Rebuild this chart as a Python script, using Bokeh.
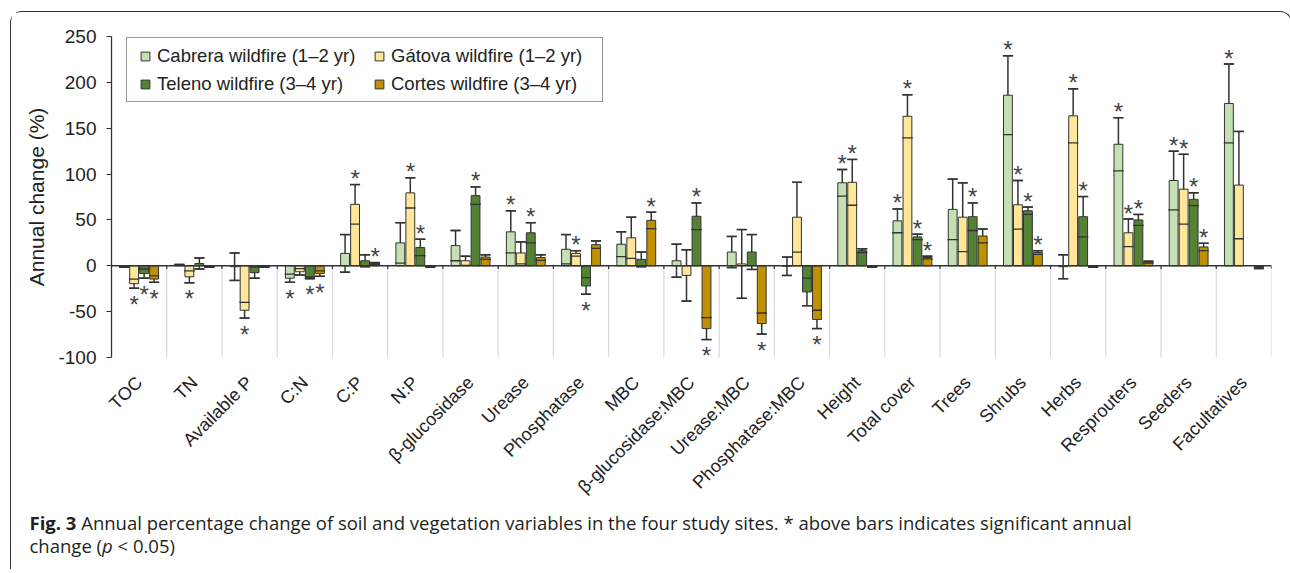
import math
from bokeh.plotting import figure
from bokeh.models import (ColumnDataSource, FactorRange, Range1d, Whisker, TeeHead, Span,
                          Legend, LegendItem, FixedTicker, Div)
from bokeh.transform import dodge
from bokeh.layouts import column
from bokeh.core.properties import value
from bokeh.embed import file_html
from bokeh.resources import INLINE

NAN = float("nan")

categories = ["TOC", "TN", "Available P", "C:N", "C:P", "N:P", "β-glucosidase", "Urease",
              "Phosphatase", "MBC", "β-glucosidase:MBC", "Urease:MBC", "Phosphatase:MBC",
              "Height", "Total cover", "Trees", "Shrubs", "Herbs", "Resprouters", "Seeders",
              "Facultatives"]

series_names = ["Cabrera wildfire (1–2 yr)", "Gátova wildfire (1–2 yr)",
                "Teleno wildfire (3–4 yr)", "Cortes wildfire (3–4 yr)"]
series_colors = ["#c5e0b3", "#ffe699", "#548235", "#bf9000"]

cabrera = [-1, 1, -1, -13.5, 13.5, 25, 22, 37, 18, 23.5, 5.5, 15, -0.5, 90.5, 49, 61.5, 186,
           -1, 132.5, 93, 177]
cabrera_err = [0.5, 0.5, 15, 4.5, 20.5, 22, 16.5, 23, 16, 13.5, 18, 17, 10, 14.5, 13, 33, 43,
               13, 29, 32, 43]
cabrera_sig = [0, 0, 0, 1, 0, 0, 0, 1, 0, 0, 0, 0, 0, 1, 1, 0, 1, 0, 1, 1, 1]

gatova = [-19.5, -12, -48.5, -6.5, 67, 79.5, 5.5, 14, 13.5, 30.5, -10.5, 2, 53, 91, 163, 53,
          66.5, 163.5, 36, 83.5, 88]
gatova_err = [5, 6.5, 8.5, 3.5, 21.5, 16.5, 5, 12, 3, 22.5, 28, 37.5, 38, 25, 23.5, 37.5, 26.5,
              29.5, 15, 38, 58.5]
gatova_sig = [1, 1, 1, 0, 1, 1, 0, 0, 1, 0, 0, 0, 0, 1, 1, 0, 1, 1, 1, 1, 0]

teleno = [-8.5, 2.5, -7.5, -13, 5.5, 20, 76.5, 36, -22, 7, 54, 15, -28.5, 16.5, 31.5, 53.5, 60,
          53.5, 50, 72.5, NAN]
teleno_err = [5, 6, 6, 1, 6.5, 9, 9.5, 11, 9, 8, 14.5, 19, 15, 2, 3, 15, 4, 22, 6, 7, NAN]
teleno_sig = [1, 0, 0, 1, 0, 1, 1, 1, 1, 0, 1, 0, 0, 0, 1, 1, 1, 1, 1, 1, 0]

cortes = [-14.5, -1, -1, -8.5, 2.5, -1, 9.5, 9, 23, 49.5, -68.5, -63, -58.5, -1, 9, 32.5, 14.5,
          -1, 4, 20.5, -2]
cortes_err = [3.5, 0.5, 0.5, 3, 1, 0.5, 2.5, 3, 4, 9, 12, 11.5, 10, 0.5, 1.5, 7.5, 2, 0.5, 1,
              4, 1]
cortes_sig = [1, 0, 0, 1, 1, 0, 0, 0, 0, 1, 1, 1, 1, 0, 1, 0, 1, 0, 0, 1, 0]

y_ticks = [-100, -50, 0, 50, 100, 150, 200, 250]

series_vals = [cabrera, gatova, teleno, cortes]
series_errs = [cabrera_err, gatova_err, teleno_err, cortes_err]
series_sigs = [cabrera_sig, gatova_sig, teleno_sig, cortes_sig]
offsets = [-0.2715, -0.0905, 0.0905, 0.2715]

FONT = "Liberation Sans"
DARK = "#333333"

p = figure(width=1270, height=495, x_range=FactorRange(*categories),
           y_range=Range1d(-100, 250), output_backend="svg", toolbar_location=None,
           min_border_left=100, min_border_right=10, min_border_top=24, min_border_bottom=149)
p.outline_line_color = None
p.xgrid.grid_line_color = None
p.ygrid.grid_line_color = None

# category separators below zero
sep_src = ColumnDataSource(dict(cat=categories))
p.segment(x0=dodge("cat", 0.5, range=p.x_range), y0=0, x1=dodge("cat", 0.5, range=p.x_range),
          y1=-100, source=sep_src, line_color="#d9d9d9", line_width=1.2, level="underlay")
p.segment(x0=dodge("cat", 0.5, range=p.x_range), y0=0, x1=dodge("cat", 0.5, range=p.x_range),
          y1=-3.5, source=sep_src, line_color=DARK, line_width=1.2)

legend_renderers = []
for vals, errs, sigs, off, col, name in zip(series_vals, series_errs, series_sigs, offsets,
                                           series_colors, series_names):
    upper = [v + e for v, e in zip(vals, errs)]
    lower = [v - e for v, e in zip(vals, errs)]
    src = ColumnDataSource(dict(cat=categories, val=vals, upper=upper, lower=lower))
    xd = dodge("cat", off, range=p.x_range)
    stem = Whisker(base=xd, upper="upper", lower="lower", source=src, level="underlay",
                   line_color=DARK, line_width=1.5,
                   upper_head=TeeHead(size=10, line_color=DARK, line_width=1.5),
                   lower_head=TeeHead(size=10, line_color=DARK, line_width=1.5))
    p.add_layout(stem)
    p.vbar(x=xd, top="val", bottom=0, width=0.16, source=src, fill_color=col,
           line_color=DARK, line_width=1)
    caps = Whisker(base=xd, upper="upper", lower="lower", source=src, level="overlay",
                   line_color=None,
                   upper_head=TeeHead(size=10, line_color=DARK, line_width=1.3),
                   lower_head=TeeHead(size=10, line_color=DARK, line_width=1.3))
    p.add_layout(caps)
    # significance stars
    sc, sy, so = [], [], []
    for c, v, u, l, s in zip(categories, vals, upper, lower, sigs):
        if s:
            sc.append(c)
            if v >= 0:
                sy.append(u)
                so.append(-6)
            else:
                sy.append(l)
                so.append(16)
    star_src = ColumnDataSource(dict(cat=sc, y=sy, yoff=so, t=["*"] * len(sc)))
    p.text(x=xd, y="y", text="t", y_offset="yoff", source=star_src, text_align="center",
           text_baseline="middle", text_font=value(FONT), text_font_size="24px",
           text_color="#444444")
    r = p.scatter(x=[categories[0]], y=[NAN], marker="square", fill_color=col,
                  line_color=DARK, line_width=1)
    legend_renderers.append((name, r))

p.add_layout(Span(location=0, dimension="width", line_color=DARK, line_width=1.5))

# axes
p.yaxis.ticker = FixedTicker(ticks=y_ticks)
p.yaxis.major_label_overrides = {t: str(t) for t in y_ticks}
p.yaxis.axis_line_color = DARK
p.yaxis.axis_line_width = 1.3
p.yaxis.major_tick_line_color = DARK
p.yaxis.major_tick_out = 5
p.yaxis.major_tick_in = 0
p.yaxis.minor_tick_line_color = None
p.yaxis.major_label_text_font = FONT
p.yaxis.major_label_text_font_size = "19px"
p.yaxis.major_label_text_color = "#222222"
p.yaxis.major_label_standoff = 10
p.yaxis.axis_label = "Annual change (%)"
p.yaxis.axis_label_text_font = FONT
p.yaxis.axis_label_text_font_size = "21px"
p.yaxis.axis_label_text_font_style = "normal"
p.yaxis.axis_label_text_color = "#222222"
p.yaxis.axis_label_standoff = 7

p.xaxis.axis_line_color = None
p.xaxis.major_tick_line_color = None
p.xaxis.minor_tick_line_color = None
p.xaxis.major_tick_out = 0
p.xaxis.major_tick_in = 0
p.xaxis.major_label_orientation = math.pi / 4
p.xaxis.major_label_text_font = FONT
p.xaxis.major_label_text_font_size = "18px"
p.xaxis.major_label_text_color = "#222222"
p.xaxis.major_label_standoff = 22

order = [0, 2, 1, 3]
legend = Legend(items=[LegendItem(label=legend_renderers[i][0], renderers=[legend_renderers[i][1]])
                       for i in order],
                ncols=2, location=(15, 255), margin=0, padding=6, spacing=5,
                glyph_width=24, glyph_height=22, label_height=23, label_width=205,
                label_standoff=0,
                label_text_font=FONT, label_text_font_size="18.5px",
                label_text_color="#222222", border_line_color=DARK, border_line_width=1.3,
                background_fill_color="white", background_fill_alpha=1.0)
p.add_layout(legend)

caption = Div(text=('<div style="margin-left:13.5px;margin-top:-1px;font-family:\'Open Sans\';'
                    'font-size:18.5px;line-height:23px;color:#231f20;white-space:nowrap">'
                    '<b>Fig. 3</b> Annual percentage change of soil and vegetation variables in '
                    'the four study sites. * above bars indicates significant annual<br>'
                    'change (<i>p</i> &lt; 0.05)</div>'),
              width=1270, height=52)

layout = column(p, caption, styles={"margin-left": "10px", "margin-top": "11px",
                                    "border": "1.5px solid #333333", "border-bottom": "none",
                                    "border-radius": "12px 12px 0 0", "background": "white"})

open("out.html", "w").write(file_html(layout, INLINE))
